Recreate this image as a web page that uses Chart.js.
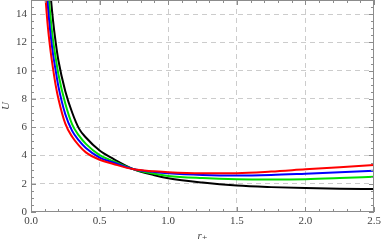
<!DOCTYPE html>
<html><head><meta charset="utf-8">
<script src="https://cdn.jsdelivr.net/npm/chart.js@4/dist/chart.umd.min.js"></script>
<style>html,body{margin:0;padding:0;background:#fff}canvas{display:block}</style>
</head><body>
<canvas id="c" width="382" height="245"></canvas>
<script>
const rValues = [0.09,0.1,0.12,0.14,0.16,0.18,0.2,0.25,0.3,0.35,0.4,0.5,0.6,0.75,0.9,1.0,1.25,1.5,1.75,2.0,2.25,2.5];
const uRed   = [17.7,16.0,13.4,11.6,10.2,8.96,8.0,6.25,5.32,4.7,4.22,3.70,3.40,3.02,2.88,2.81,2.74,2.75,2.86,3.02,3.17,3.33];
const uBlue  = [19.8,17.8,14.9,12.8,11.2,10.0,8.87,6.92,5.74,5.05,4.53,3.85,3.50,3.02,2.83,2.74,2.62,2.58,2.62,2.71,2.81,2.91];
const uGreen = [21.9,19.7,16.4,14.0,12.2,10.9,9.73,7.67,6.2,5.4,4.82,4.03,3.60,3.02,2.70,2.55,2.40,2.32,2.30,2.32,2.40,2.50];
const uBlack = [25.0,22.4,18.5,15.7,13.6,12.0,10.7,8.55,7.04,5.9,5.27,4.35,3.76,3.02,2.60,2.39,2.08,1.87,1.76,1.69,1.65,1.63];
const xTicks = [0,0.5,1.0,1.5,2.0,2.5];
const yTicks = [0,2,4,6,8,10,12,14];
const xMinorStep = 0.1;
const yMinorStep = 0.5;

const series = [
  {label:'red', data:uRed, color:'#ff0000'},
  {label:'blue', data:uBlue, color:'#0000ff'},
  {label:'green', data:uGreen, color:'#00e000'},
  {label:'black', data:uBlack, color:'#000000'}
];

const fontSerif = {family:'"Liberation Serif", "DejaVu Serif", serif', size:11};
const frameColor = '#8c8c8c';

const framePlugin = {
  id:'frame',
  afterDatasetsDraw(chart){
    const {ctx, chartArea:a, scales:{x, y}} = chart;
    ctx.save();
    ctx.strokeStyle = frameColor;
    ctx.lineWidth = 1;
    ctx.beginPath();
    const nx = Math.round((x.max - x.min)/xMinorStep);
    for(let i=0;i<=nx;i++){
      const v = x.min + i*xMinorStep;
      const px = Math.round(x.getPixelForValue(v))+0.5;
      const major = xTicks.some(t=>Math.abs(t-v)<1e-6);
      const len = major?5:3;
      ctx.moveTo(px, a.bottom); ctx.lineTo(px, a.bottom-len);
      ctx.moveTo(px, a.top); ctx.lineTo(px, a.top+len);
    }
    const ny = Math.round((y.max - y.min)/yMinorStep);
    for(let i=0;i<=ny;i++){
      const v = y.min + i*yMinorStep;
      const py = Math.round(y.getPixelForValue(v))+0.5;
      const major = yTicks.some(t=>Math.abs(t-v)<1e-6);
      const len = major?5:3;
      ctx.moveTo(a.left, py); ctx.lineTo(a.left+len, py);
      ctx.moveTo(a.right, py); ctx.lineTo(a.right-len, py);
    }
    ctx.stroke();
    ctx.strokeRect(Math.round(a.left)+0.5, Math.round(a.top)+0.5, Math.round(a.right-a.left)-1, Math.round(a.bottom-a.top)-1);
    ctx.restore();
  }
};

new Chart(document.getElementById('c'), {
  type:'line',
  data:{
    datasets: series.map(s=>({
      label:s.label,
      data: rValues.map((r,i)=>({x:r, y:s.data[i]})),
      borderColor:s.color,
      borderWidth:2,
      pointRadius:0,
      fill:false,
      cubicInterpolationMode:'monotone'
    }))
  },
  options:{
    responsive:false,
    animation:false,
    devicePixelRatio:1,
    layout:{padding:{top:0,right:8,left:0,bottom:0}},
    plugins:{legend:{display:false}, tooltip:{enabled:false}},
    scales:{
      x:{
        type:'linear', min:0, max:2.5,
        afterBuildTicks(s){ s.ticks = xTicks.map(v=>({value:v})); },
        afterFit(s){ s.height = 33; s.paddingLeft = 0; s.paddingRight = 0; },
        border:{display:false, dash:[5,4]},
        grid:{
          drawTicks:false,
          color:(c)=> (c.tick && (c.tick.value===0 || c.tick.value===2.5)) ? 'rgba(0,0,0,0)' : '#cccccc',
          lineWidth:1
        },
        ticks:{padding:3, color:'#444', font:fontSerif, maxRotation:0, callback:(v)=>Number(v).toFixed(1)},
        title:{display:true, text:'r₊', color:'#444', font:{family:fontSerif.family, size:11, style:'italic'}, padding:{top:0,bottom:2}}
      },
      y:{
        type:'linear', min:0, max:15,
        afterBuildTicks(s){ s.ticks = yTicks.map(v=>({value:v})); },
        afterFit(s){ s.width = 31; s.paddingTop = 0; s.paddingBottom = 0; },
        border:{display:false, dash:[5,4]},
        grid:{
          drawTicks:false,
          color:(c)=> (c.tick && c.tick.value===0) ? 'rgba(0,0,0,0)' : '#cccccc',
          lineWidth:1
        },
        ticks:{padding:4, color:'#444', font:fontSerif},
        title:{display:true, text:'U', color:'#444', font:{family:fontSerif.family, size:11, style:'italic'}, padding:{top:0,bottom:0}}
      }
    }
  },
  plugins:[framePlugin]
});
</script>
</body></html>
